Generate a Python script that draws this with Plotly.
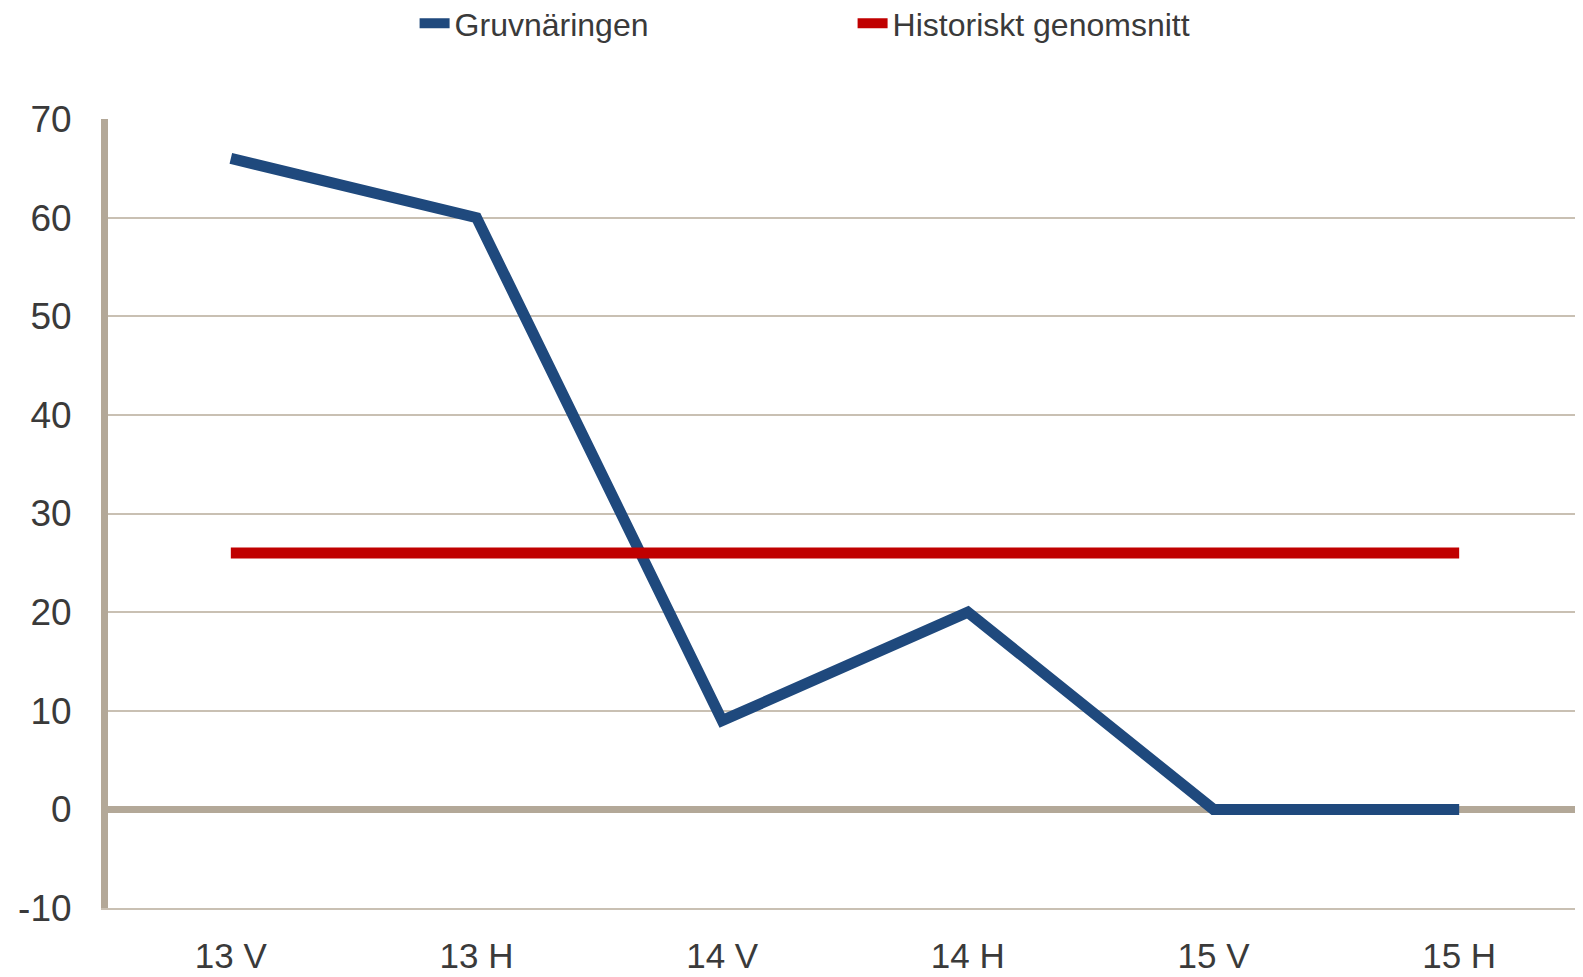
import plotly.graph_objects as go

categories = ["13 V", "13 H", "14 V", "14 H", "15 V", "15 H"]
gruv_values = [66, 60, 9, 20, 0, 0]
hist_values = [26, 26, 26, 26, 26, 26]
y_ticks = [-10, 0, 10, 20, 30, 40, 50, 60, 70]
y_tick_text = ["-10", "0", "10", "20", "30", "40", "50", "60", "70"]

FONT = "Liberation Sans, Arial, sans-serif"
TEXT = "#3a3a3a"
GRID = "#c9c0b3"
AXIS = "#b3a898"

fig = go.Figure()
fig.add_trace(go.Scatter(
    x=categories, y=gruv_values, mode="lines", name="Gruvnäringen",
    line=dict(color="#1f497d", width=11),
))
fig.add_trace(go.Scatter(
    x=categories, y=hist_values, mode="lines", name="Historiskt genomsnitt",
    line=dict(color="#c00000", width=11),
))

fig.update_layout(
    width=1575, height=969,
    margin=dict(l=100, r=1, t=111, b=69, autoexpand=False),
    paper_bgcolor="white", plot_bgcolor="white",
    font=dict(family=FONT, color=TEXT),
    showlegend=True,
    legend=dict(
        orientation="h", x=0.208, xanchor="left", y=0.984, yanchor="middle",
        yref="container", font=dict(size=32, family=FONT, color=TEXT),
        entrywidth=393, entrywidthmode="pixels",
        itemwidth=30, tracegroupgap=0, bgcolor="rgba(0,0,0,0)",
    ),
)

fig.update_xaxes(
    type="category", range=[-0.5, 5.5], showgrid=False, zeroline=False,
    showline=True, linecolor=GRID, linewidth=2, ticks="",
    tickfont=dict(size=35, family=FONT, color=TEXT), ticklabelstandoff=16,
    automargin=False,
)
fig.update_yaxes(
    range=[-10, 70], tickvals=y_ticks, ticktext=y_tick_text,
    showgrid=True, gridcolor=GRID, gridwidth=2,
    zeroline=True, zerolinecolor=AXIS, zerolinewidth=7,
    showline=True, linecolor=AXIS, linewidth=7, ticks="",
    tickfont=dict(size=37, family=FONT, color=TEXT), ticklabelstandoff=22,
    automargin=False,
)

fig.write_html("out.html")
